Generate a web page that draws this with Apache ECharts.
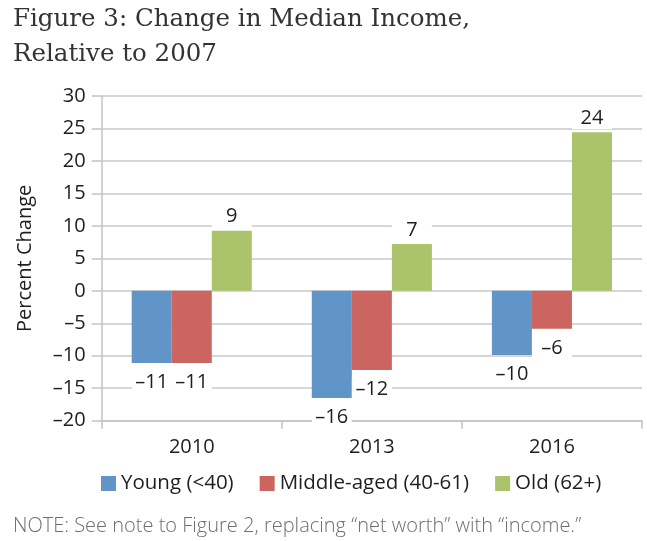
<!DOCTYPE html>
<html>
<head>
<meta charset="utf-8">
<script src="https://cdn.jsdelivr.net/npm/echarts@6/dist/echarts.min.js"></script>
<style>html,body{margin:0;padding:0;background:#fff;}#c{width:647px;height:541px;}</style>
</head>
<body>
<div id="c"></div>
<script>
var categories = ['2010', '2013', '2016'];
var seriesNames = ['Young (<40)', 'Middle-aged (40-61)', 'Old (62+)'];
var young = [-11.1, -16.5, -9.9];
var middle = [-11.1, -12.2, -5.85];
var old = [9.25, 7.2, 24.4];
var labelsYoung = ['\u201311', '\u201316', '\u201310'];
var labelsMiddle = ['\u201311', '\u201312', '\u20136'];
var labelsOld = ['9', '7', '24'];
var yTicks = [-20, -15, -10, -5, 0, 5, 10, 15, 20, 25, 30];
var colors = ['#6195c8', '#cc655f', '#abc46c'];

var SANS = '"Open Sans", sans-serif';

function mkData(vals, labs) {
  return vals.map(function (v, i) {
    return {
      value: v,
      label: {
        formatter: labs[i],
        position: v < 0 ? 'bottom' : 'top',
        distance: v < 0 ? 8 : 3
      }
    };
  });
}

function mkSeries(name, vals, labs, color) {
  return {
    name: name,
    type: 'bar',
    barGap: '0%',
    barCategoryGap: '33.3%',
    itemStyle: { color: color },
    label: {
      show: true,
      fontFamily: SANS,
      fontSize: 20,
      color: '#1e1e1e',
      backgroundColor: '#fff',
      width: 40,
      align: 'center',
      lineHeight: 20,
      padding: [1, 0]
    },
    data: mkData(vals, labs)
  };
}

var chart = echarts.init(document.getElementById('c'), null, { renderer: 'canvas' });
chart.setOption({
  animation: false,
  backgroundColor: '#fff',
  title: {
    text: 'Figure 3: Change in Median Income,\nRelative to 2007',
    left: 13,
    top: 2,
    padding: 0,
    textStyle: {
      fontFamily: '"DejaVu Serif", serif',
      fontSize: 24.5,
      fontWeight: 'normal',
      color: '#333333',
      lineHeight: 35
    }
  },
  graphic: [{
    type: 'text',
    left: 13,
    top: 516,
    style: {
      text: 'NOTE: See note to Figure 2, replacing \u201cnet worth\u201d with \u201cincome.\u201d',
      fontFamily: SANS,
      fontSize: 20,
      fontWeight: 300,
      fill: '#6e6e6e'
    }
  }],
  legend: {
    left: 101,
    top: 473,
    padding: 0,
    itemWidth: 15,
    itemHeight: 15,
    itemGap: 26,
    icon: 'rect',
    textStyle: { fontFamily: SANS, fontSize: 20.5, color: '#1e1e1e' },
    data: seriesNames
  },
  grid: { left: 101.7, right: 5, top: 96, bottom: 120.3, containLabel: false },
  xAxis: {
    type: 'category',
    data: categories,
    position: 'bottom',
    axisLine: { onZero: false, lineStyle: { color: '#c4c4c4', width: 1.5 } },
    axisTick: { show: true, length: 8, alignWithLabel: false, lineStyle: { color: '#c4c4c4', width: 1.5 } },
    axisLabel: { fontFamily: SANS, fontSize: 20, color: '#1e1e1e', margin: 17 },
    splitLine: { show: false }
  },
  yAxis: {
    type: 'value',
    min: yTicks[0],
    max: yTicks[yTicks.length - 1],
    interval: 5,
    name: 'Percent Change',
    nameLocation: 'middle',
    nameGap: 66,
    nameRotate: 90,
    nameTextStyle: { fontFamily: SANS, fontSize: 20, color: '#1e1e1e' },
    axisLine: { show: true, lineStyle: { color: '#c4c4c4', width: 1.5 } },
    axisTick: { show: true, length: 10, lineStyle: { color: '#c4c4c4', width: 1.5 } },
    axisLabel: {
      fontFamily: SANS, fontSize: 20, color: '#1e1e1e', margin: 16,
      formatter: function (v) { return v < 0 ? '\u2013' + Math.abs(v) : String(v); }
    },
    splitLine: { show: true, lineStyle: { color: '#c8c8c8', width: 1.5 } }
  },
  series: [
    mkSeries(seriesNames[0], young, labelsYoung, colors[0]),
    mkSeries(seriesNames[1], middle, labelsMiddle, colors[1]),
    mkSeries(seriesNames[2], old, labelsOld, colors[2])
  ]
});
</script>
</body>
</html>
